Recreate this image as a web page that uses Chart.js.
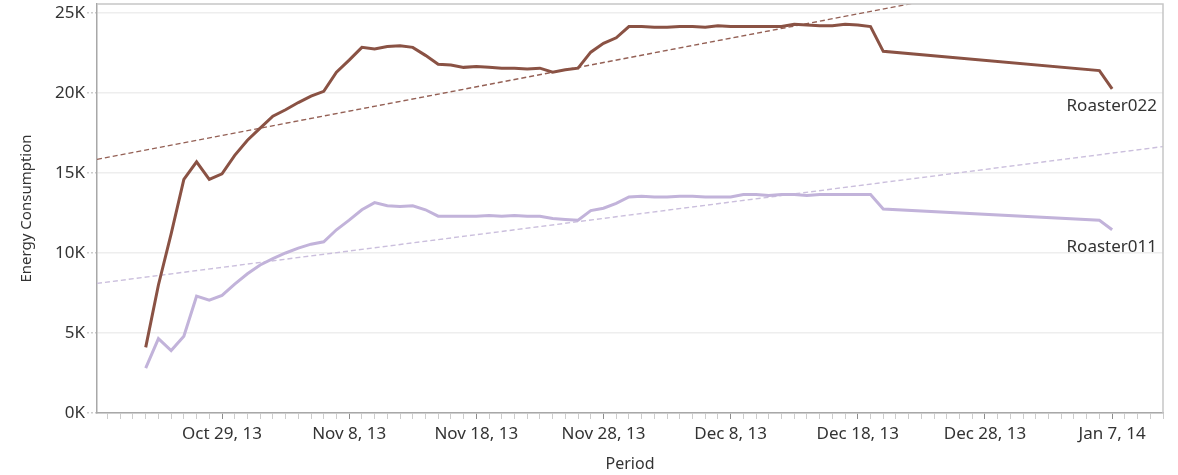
<!DOCTYPE html>
<html>
<head>
<meta charset="utf-8">
<script src="https://cdn.jsdelivr.net/npm/chart.js@4"></script>
<style>
  html, body { margin: 0; padding: 0; background: #fff; }
  #wrap { width: 1178px; height: 475px; position: relative; }
</style>
</head>
<body>
<div id="wrap"><canvas id="energyChart"></canvas></div>
<script>
// days counted from Oct 29, 2013 (no data Dec 21 - Jan 5)
const days = [-6, -5, -4, -3, -2, -1, 0, 1, 2, 3, 4, 5, 6, 7, 8, 9, 10, 11, 12, 13,
    14, 15, 16, 17, 18, 19, 20, 21, 22, 23, 24, 25, 26, 27, 28, 29, 30, 31, 32, 33,
    34, 35, 36, 37, 38, 39, 40, 41, 42, 43, 44, 45, 46, 47, 48, 49, 50, 51, 52, 69, 70];

const roaster022 = [4100, 8000, 11200, 14600, 15700, 14600, 14950, 16100, 17050, 17800,
    18550, 18950, 19400, 19800, 20100, 21300, 22050, 22850, 22750, 22900,
    22950, 22850, 22350, 21800, 21750, 21600, 21650, 21600, 21550, 21550,
    21500, 21550, 21300, 21450, 21550, 22550, 23100, 23450, 24150, 24150,
    24100, 24100, 24150, 24150, 24100, 24200, 24150, 24150, 24150, 24150,
    24150, 24300, 24250, 24200, 24200, 24300, 24250, 24150, 22600, 21400, 20250];

const roaster011 = [2800, 4650, 3900, 4800, 7300, 7050, 7350, 8050, 8700, 9250,
    9650, 10000, 10300, 10550, 10700, 11450, 12050, 12700, 13150, 12950,
    12900, 12950, 12700, 12300, 12300, 12300, 12300, 12350, 12300, 12350,
    12300, 12300, 12150, 12100, 12050, 12650, 12800, 13100, 13500, 13550,
    13500, 13500, 13550, 13550, 13500, 13500, 13500, 13650, 13650, 13600,
    13650, 13650, 13600, 13650, 13650, 13650, 13650, 13650, 12750, 12050, 11450];

const seriesNames = ['Roaster022', 'Roaster011'];

// fit lines, read at the left and right edges of the plot
const trendDays = [-9.83, 74];
const trend022 = [15850, 28590];
const trend011 = [8100, 16650];

const tickDays = [0, 10, 20, 30, 40, 50, 60, 70];
const tickLabels = ['Oct 29, 13', 'Nov 8, 13', 'Nov 18, 13', 'Nov 28, 13',
    'Dec 8, 13', 'Dec 18, 13', 'Dec 28, 13', 'Jan 7, 14'];
const yTicks = [0, 5000, 10000, 15000, 20000, 25000];

const FONT = '"Noto Sans", "Open Sans", sans-serif';

function toPoints(xs, ys) {
    return xs.map(function(x, i) { return { x: x, y: ys[i] }; });
}

// top and right frame + end labels
const framePlugin = {
    id: 'frame',
    afterDatasetsDraw: function(chart) {
        const ctx = chart.ctx;
        const area = chart.chartArea;
        const yScale = chart.scales.y;
        ctx.save();
        ctx.strokeStyle = '#c6c6c6';
        ctx.lineWidth = 1.5;
        ctx.beginPath();
        ctx.moveTo(area.left, area.top);
        ctx.lineTo(area.right, area.top);
        ctx.lineTo(area.right, area.bottom);
        ctx.stroke();

        ctx.font = '17px ' + FONT;
        ctx.fillStyle = '#333';
        ctx.textAlign = 'right';
        ctx.textBaseline = 'middle';
        [roaster022, roaster011].forEach(function(vals, i) {
            const y = yScale.getPixelForValue(vals[vals.length - 1]) + 17;
            ctx.fillText(seriesNames[i], area.right - 6, y);
        });
        ctx.restore();
    }
};

const ctx = document.getElementById('energyChart');
new Chart(ctx, {
    type: 'line',
    data: {
        datasets: [
            {
                label: seriesNames[0],
                data: toPoints(days, roaster022),
                borderColor: '#8a5244',
                borderWidth: 3,
                pointRadius: 0,
                tension: 0
            },
            {
                label: seriesNames[1],
                data: toPoints(days, roaster011),
                borderColor: '#c2b3da',
                borderWidth: 3,
                pointRadius: 0,
                tension: 0
            },
            {
                label: 'fit 022',
                data: toPoints(trendDays, trend022),
                borderColor: '#946055',
                borderWidth: 1.4,
                borderDash: [5, 3],
                pointRadius: 0
            },
            {
                label: 'fit 011',
                data: toPoints(trendDays, trend011),
                borderColor: '#cbbfdd',
                borderWidth: 1.4,
                borderDash: [5, 3],
                pointRadius: 0
            }
        ]
    },
    options: {
        responsive: true,
        maintainAspectRatio: false,
        animation: false,
        layout: {
            padding: { top: 4, right: 15, left: 0, bottom: 0 }
        },
        plugins: {
            legend: { display: false },
            tooltip: { enabled: false }
        },
        scales: {
            x: {
                type: 'linear',
                min: -9.83,
                max: 74,
                afterBuildTicks: function(scale) {
                    const t = [];
                    for (let d = -9; d <= 74; d++) t.push({ value: d });
                    scale.ticks = t;
                },
                afterFit: function(scale) {
                    scale.height = 62;
                },
                grid: {
                    drawOnChartArea: false,
                    tickLength: 6,
                    tickWidth: 1,
                    tickColor: function(c) {
                        return tickDays.indexOf(c.tick.value) >= 0 ? '#8c8c8c' : '#cccccc';
                    }
                },
                border: { color: '#a8a8a8', width: 1.5 },
                ticks: {
                    autoSkip: false,
                    maxRotation: 0,
                    padding: 5,
                    color: '#333',
                    font: { family: FONT, size: 17 },
                    callback: function(value) {
                        const i = tickDays.indexOf(value);
                        return i >= 0 ? tickLabels[i] : '';
                    }
                },
                title: {
                    display: true,
                    text: 'Period',
                    color: '#333',
                    font: { family: FONT, size: 16 },
                    padding: { top: 0, bottom: 1 }
                }
            },
            y: {
                min: 0,
                max: 25560,
                afterBuildTicks: function(scale) {
                    scale.ticks = yTicks.map(function(v) { return { value: v }; });
                },
                afterFit: function(scale) {
                    scale.width = 97;
                    // top label sits below the frame, no extra room needed
                    scale.paddingTop = 0;
                },
                grid: {
                    color: '#eeeeee',
                    lineWidth: 1.5,
                    tickLength: 10,
                    tickColor: '#cccccc',
                    tickBorderDash: [2, 2]
                },
                border: { color: '#a8a8a8', width: 1.5 },
                ticks: {
                    padding: 2,
                    color: '#333',
                    font: { family: FONT, size: 17 },
                    callback: function(value) {
                        return (value / 1000) + 'K';
                    }
                },
                title: {
                    display: true,
                    text: 'Energy Consumption',
                    color: '#333',
                    font: { family: FONT, size: 15 },
                    padding: { top: 18, bottom: 0 }
                }
            }
        }
    },
    plugins: [framePlugin]
});
</script>
</body>
</html>
